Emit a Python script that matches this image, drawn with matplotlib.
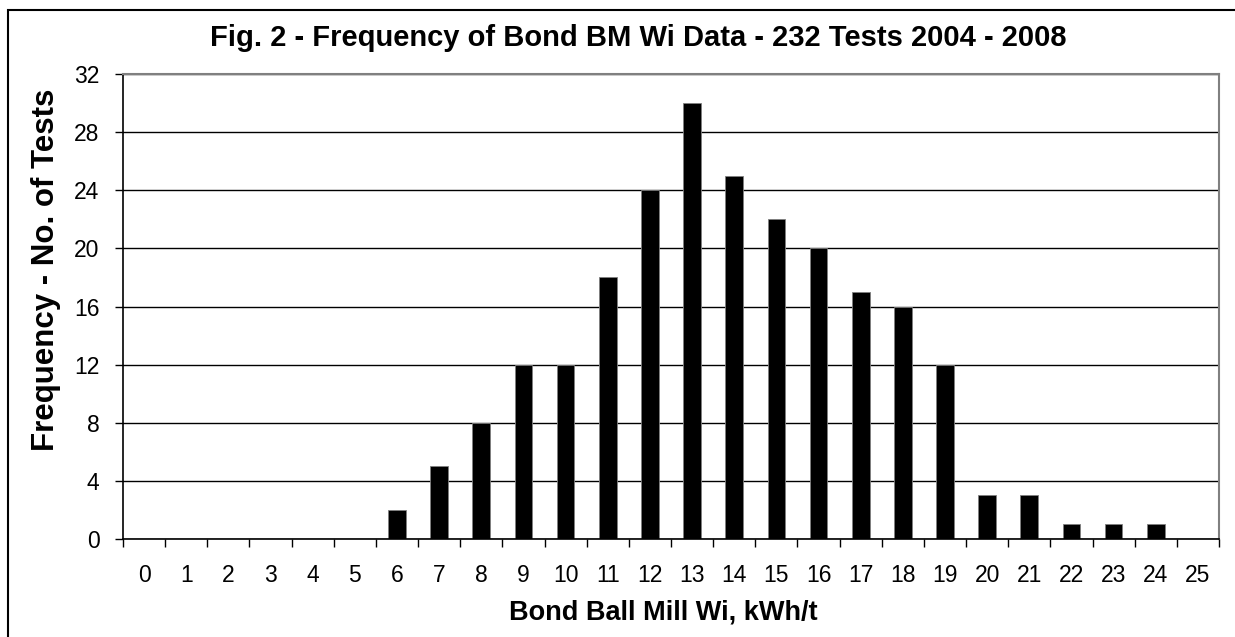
import numpy as np
import matplotlib.pyplot as plt
from matplotlib.patches import Rectangle

plt.rcParams['font.family'] = ['Liberation Sans', 'DejaVu Sans']

wi_bins = list(range(0, 26))
counts = [0, 0, 0, 0, 0, 0, 2, 5, 8, 12, 12, 18, 24, 30, 25, 22, 20, 17, 16, 12, 3, 3, 1, 1, 1, 0]
y_ticks = [0, 4, 8, 12, 16, 20, 24, 28, 32]

title = 'Fig. 2 - Frequency of Bond BM Wi Data - 232 Tests 2004 - 2008'
x_label = 'Bond Ball Mill Wi, kWh/t'
y_label = 'Frequency - No. of Tests'

fig = plt.figure(figsize=(12.35, 6.37), dpi=100)
ax = fig.add_axes([123 / 1235, 1 - 539 / 637, (1219 - 123) / 1235, (539 - 74) / 637])

x = np.arange(len(wi_bins))
ax.bar(x, counts, width=0.42, color='black', edgecolor='#808080', linewidth=0.6, zorder=3)

ax.set_xlim(-0.5, len(wi_bins) - 0.5)
ax.set_ylim(0, 32)
ax.set_yticks(y_ticks)
ax.yaxis.grid(True, color='black', linewidth=1.0, zorder=0)
ax.tick_params(axis='y', direction='out', length=6, width=1, labelsize=16.5, pad=11)

# labels at the category centres, tick marks at the boundaries
ax.set_xticks(x)
ax.set_xticklabels([str(b) for b in wi_bins])
ax.tick_params(axis='x', which='major', length=0, labelsize=16.5, pad=18)
ax.set_xticks(np.arange(len(wi_bins) + 1) - 0.5, minor=True)
ax.tick_params(axis='x', which='minor', direction='out', length=6, width=1)

for side in ['left', 'bottom']:
    ax.spines[side].set_color('black')
    ax.spines[side].set_linewidth(1.2)
for side in ['top', 'right']:
    ax.spines[side].set_color('#808080')
    ax.spines[side].set_linewidth(1.5)
ax.spines['bottom'].set_zorder(4)

fig.text(638 / 1235, 1 - 38 / 637, title, ha='center', va='center',
         fontsize=21, fontweight='bold')
fig.text(663 / 1235, 1 - 612 / 637, x_label, ha='center', va='center',
         fontsize=19.5, fontweight='bold')
fig.text(46 / 1235, 1 - 270 / 637, y_label, ha='center', va='center',
         fontsize=22.5, fontweight='bold', rotation=90)

# chart-area frame, cut off on the right and bottom
frame = Rectangle((7.5 / 1235, -0.1), 1.2, 1 - 10 / 637 + 0.1, transform=fig.transFigure,
                  fill=False, edgecolor='black', linewidth=1.5)
fig.patches.append(frame)

fig.savefig('out.png', dpi=100)
